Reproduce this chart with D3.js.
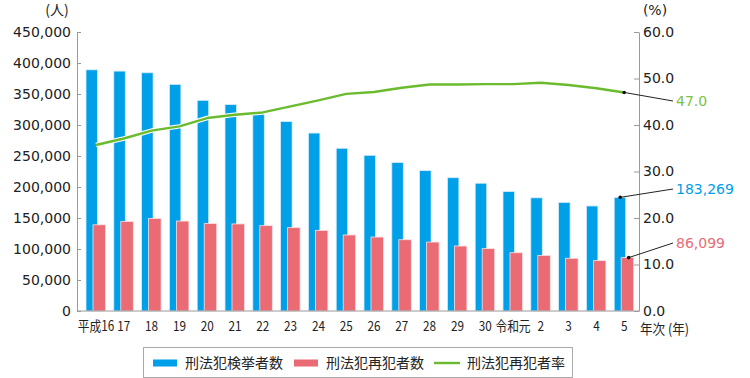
<!DOCTYPE html>
<html><head><meta charset="utf-8">
<script src="https://cdn.jsdelivr.net/npm/d3@7"></script>
<style>
html,body{margin:0;padding:0;background:#fff;}
svg{display:block;}
</style></head>
<body>
<svg id="chart" width="750" height="378"></svg>
<script>
const categories = ["平成16","17","18","19","20","21","22","23","24","25","26","27","28","29","30","令和元","2","3","4","5"];
const arrests = [389027,386955,384250,365577,339752,332888,322620,305631,287021,262486,251115,239355,226376,215003,206094,192607,182582,175041,169409,183269];
const reoffenders = [138997,144397,149164,145052,140939,140431,137614,134429,130077,122638,119280,114944,111205,104774,100601,93967,89667,85032,81183,86099];
const rate = [35.7,37.1,38.8,39.7,41.5,42.2,42.7,44.0,45.3,46.7,47.1,48.0,48.7,48.7,48.8,48.8,49.1,48.6,47.9,47.0];
const leftTicks = [0,50000,100000,150000,200000,250000,300000,350000,400000,450000];
const rightTicks = [0,10,20,30,40,50,60];
const seriesNames = ["刑法犯検挙者数","刑法犯再犯者数","刑法犯再犯者率"];

const BLUE = "#00A0E9", RED = "#EA6B74", GREEN = "#6BBB2E";
const NUMFONT = "'DejaVu Sans', 'Noto Sans CJK JP', sans-serif";
const JPFONT = "'Noto Sans CJK JP', sans-serif";

const svg = d3.select("#chart");
const x = d3.scaleBand().domain(categories).range([82.1, 638.1]).paddingInner(0).paddingOuter(0);
const cx = d => x(d) + x.bandwidth() / 2;
const yL = d3.scaleLinear().domain([0, 450000]).range([311, 32]);
const yR = d3.scaleLinear().domain([0, 60]).range([311, 32]);

// bars
const g = svg.append("g");
g.selectAll("rect.blue").data(categories).join("rect")
  .attr("class","blue")
  .attr("x", d => cx(d) - 10).attr("width", 11.5)
  .attr("y", (d,i) => yL(arrests[i])).attr("height", (d,i) => yL(0) - yL(arrests[i]))
  .attr("fill", BLUE).attr("stroke", "#d7ecfa").attr("stroke-width", 0.8);
g.selectAll("rect.red").data(categories).join("rect")
  .attr("class","red")
  .attr("x", d => cx(d) - 3).attr("width", 12.5)
  .attr("y", (d,i) => yL(reoffenders[i])).attr("height", (d,i) => yL(0) - yL(reoffenders[i]))
  .attr("fill", RED).attr("stroke", "#fbe0e2").attr("stroke-width", 0.8);

// baseline
svg.append("line").attr("x1", 77).attr("x2", 639).attr("y1", yL(0)).attr("y2", yL(0))
  .attr("stroke", "#9a9a9a").attr("stroke-width", 1);

// line
const line = d3.line().x((d,i) => cx(categories[i])).y(d => yR(d));
svg.append("path").datum(rate).attr("d", line).attr("fill","none")
  .attr("stroke","#ffffff").attr("stroke-width",4.5).attr("stroke-linejoin","round");
svg.append("path").datum(rate).attr("d", line).attr("fill","none")
  .attr("stroke",GREEN).attr("stroke-width",2.4).attr("stroke-linejoin","round");

// axes
const axL = d3.axisLeft(yL).tickValues(leftTicks).tickSize(-4).tickSizeOuter(0).tickPadding(6)
  .tickFormat(d3.format(","));
const gL = svg.append("g").attr("transform","translate(77,0)").call(axL);
const axR = d3.axisRight(yR).tickValues(rightTicks).tickSize(-5).tickSizeOuter(0).tickPadding(4)
  .tickFormat(d3.format(".1f"));
const gR = svg.append("g").attr("transform","translate(639,0)").call(axR);
[gL, gR].forEach(a => {
  a.select(".domain").attr("stroke","#9a9a9a");
  a.selectAll(".tick line").attr("stroke","#9a9a9a");
  a.selectAll("text").attr("font-family", NUMFONT).attr("font-size", 14).attr("fill","#222");
});

const axB = d3.axisBottom(x).tickSize(0).tickPadding(10);
const gB = svg.append("g").attr("transform", `translate(0,${yL(0)})`).call(axB);
gB.select(".domain").remove();
gB.selectAll("text").attr("font-family", JPFONT).attr("font-size", 14).attr("fill","#222")
  .attr("transform", "scale(0.84,1)")
  .attr("x", 0);

// unit labels
svg.append("text").attr("x", 57).attr("y", 10).attr("dy","0.35em").attr("text-anchor","middle")
  .attr("font-family", JPFONT).attr("font-size", 14).attr("fill","#222").text("(人)");
svg.append("text").attr("x", 655).attr("y", 10).attr("dy","0.35em").attr("text-anchor","middle")
  .attr("font-family", NUMFONT).attr("font-size", 14).attr("fill","#222").text("(%)");
svg.append("text").attr("transform", "translate(640,329) scale(0.9,1)").attr("dy","0.35em")
  .attr("font-family", JPFONT).attr("font-size", 14).attr("fill","#222").text("年次 (年)");

// callouts
const last = categories.length - 1;
const lc = cx(categories[last]);
const callouts = [
  {px: lc - 4, py: yL(arrests[last]), tx: 673, ty: 189, label: d3.format(",")(arrests[last]), color: BLUE},
  {px: lc + 4.5, py: yL(reoffenders[last]), tx: 673, ty: 243, label: d3.format(",")(reoffenders[last]), color: RED},
  {px: lc, py: yR(rate[last]), tx: 673, ty: 101, label: d3.format(".1f")(rate[last]), color: "#7CC242"}
];
callouts.forEach(c => {
  svg.append("line").attr("x1", c.px).attr("y1", c.py).attr("x2", c.tx).attr("y2", c.ty)
    .attr("stroke","#222").attr("stroke-width",1);
  svg.append("circle").attr("cx", c.px).attr("cy", c.py).attr("r", 1.8).attr("fill","#111");
  svg.append("text").attr("x", c.tx + 3).attr("y", c.ty).attr("dy","0.35em")
    .attr("font-family", NUMFONT).attr("font-size", 14).attr("fill", c.color).text(c.label);
});

// legend
const lg = svg.append("g");
lg.append("rect").attr("x", 143.5).attr("y", 347.5).attr("width", 429).attr("height", 30)
  .attr("fill","#fff").attr("stroke","#aaa").attr("stroke-width",1);
const ly = 363;
lg.append("rect").attr("x", 153).attr("y", ly - 3.5).attr("width", 24).attr("height", 7).attr("fill", BLUE);
lg.append("rect").attr("x", 294).attr("y", ly - 3.5).attr("width", 24).attr("height", 7).attr("fill", RED);
lg.append("line").attr("x1", 434).attr("x2", 460).attr("y1", ly).attr("y2", ly).attr("stroke", GREEN).attr("stroke-width", 2.4);
[[185, 0],[326, 1],[467, 2]].forEach(([lx, i]) => {
  lg.append("text").attr("x", lx).attr("y", ly).attr("dy","0.35em")
    .attr("font-family", JPFONT).attr("font-size", 14).attr("fill","#222").text(seriesNames[i]);
});
</script>
</body></html>
